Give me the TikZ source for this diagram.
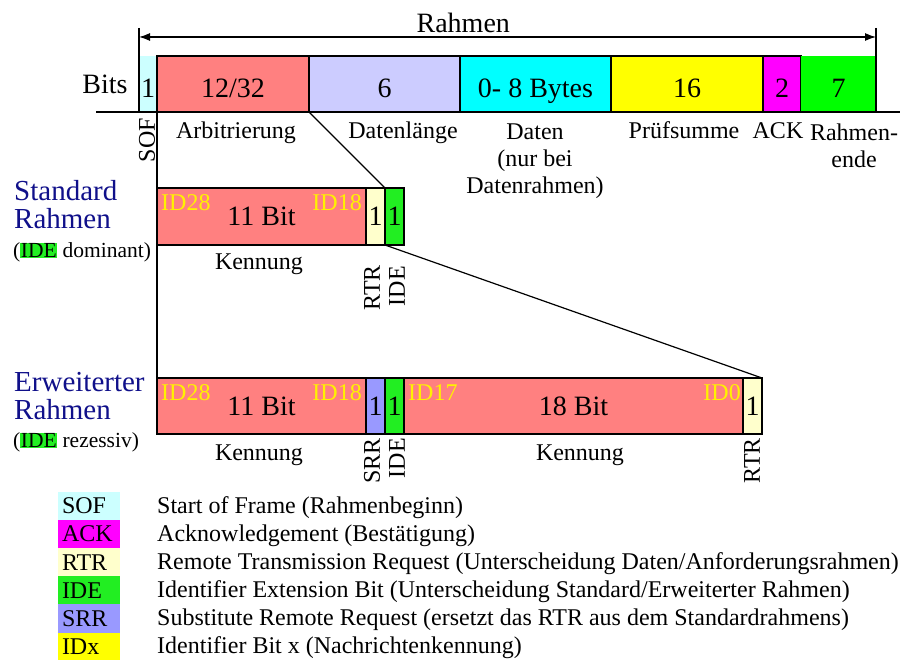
\documentclass[tikz,border=0pt]{standalone}
\usepackage{fontspec}
\setmainfont{Liberation Serif}
\usepackage{xcolor}
\usetikzlibrary{arrows.meta,calc,positioning}
\definecolor{sofcyan}{HTML}{CCFFFF}
\definecolor{arbrot}{HTML}{FF8080}
\definecolor{dlclila}{HTML}{CCCCFF}
\definecolor{datcyan}{HTML}{00FFFF}
\definecolor{crcgelb}{HTML}{FFFF00}
\definecolor{ackmag}{HTML}{FF00FF}
\definecolor{eofgruen}{HTML}{00FF00}
\definecolor{rtrgelb}{HTML}{FFFFCC}
\definecolor{idegruen}{HTML}{22EE22}
\definecolor{srrblau}{HTML}{9999FF}
\definecolor{rahmenblau}{HTML}{10108A}
\newcommand\grossschrift{\fontsize{28}{28}\selectfont}
\newcommand\titelschrift{\fontsize{29}{28}\selectfont}
\newcommand\mittelschrift{\fontsize{24}{27}\selectfont}
\newcommand\kleinschrift{\fontsize{21.5}{24}\selectfont}
\newcommand\idemark{{\setlength{\fboxsep}{0.5pt}\colorbox{idegruen}{IDE}}}
\tikzset{%
	feld/.style       = {draw, line width=1.2pt, inner sep=0pt, outer sep=0pt, minimum height=56, font=\grossschrift},
	oben/.style       = {text height=27pt, text depth=0pt},
	beschr/.style     = {inner sep=0pt, align=center, font=\mittelschrift},
	drehbeschr/.style = {inner sep=0pt, rotate=90, anchor=east, font=\mittelschrift},
	idtext/.style     = {inner xsep=4pt, inner ysep=6pt, text=yellow, font=\mittelschrift},
	titel/.style      = {inner sep=0pt, align=left, anchor=north west, text=rahmenblau, font=\titelschrift},
	legfeld/.style    = {inner xsep=4pt, inner ysep=0pt, outer sep=0pt, minimum height=28.1, text width=54, align=left, anchor=north west, font=\mittelschrift},
	legtext/.style    = {inner sep=0pt, anchor=base west, font=\mittelschrift},
	linie/.style      = {line width=1.2pt},
}

\begin{document}
\begin{tikzpicture}[x=1pt, y=-1pt]
	\useasboundingbox (0,0) rectangle (900,660);
	% Rahmen oben
	\node[feld, oben, draw=none, fill=sofcyan, minimum width=18, anchor=north west] (sof) at (139,56) {1};
	\node[feld, oben, fill=arbrot, minimum width=152, right=0pt of sof] (arb) {12/32};
	\node[feld, oben, fill=dlclila, minimum width=151, right=0pt of arb] (dlc) {6};
	\node[feld, oben, fill=datcyan, minimum width=151, right=0pt of dlc] (dat) {0- 8 Bytes};
	\node[feld, oben, fill=crcgelb, minimum width=152, right=0pt of dat] (crc) {16};
	\node[feld, oben, fill=ackmag, minimum width=38, right=0pt of crc] (ack) {2};
	\node[feld, oben, draw=none, fill=eofgruen, minimum width=75, right=0pt of ack] (eof) {7};
	\node[font=\grossschrift, inner sep=0pt] (bits) at (105,84) {Bits};

	\coordinate (basisL) at (96,112);
	\coordinate (basisR) at (900,112);
	\coordinate (rahmenA) at (139,28);
	\coordinate (rahmenE) at (876,28);
	\coordinate (pfeilA) at (139,37);
	\coordinate (pfeilE) at (876,37);
	\draw[linie] (basisL) -- (basisR);
	\draw[linie] (rahmenA) -- (sof.south west);
	\draw[linie] (rahmenE) -- (eof.south east);
	\draw[linie, {Latex[length=11pt,width=8pt]}-{Latex[length=11pt,width=8pt]}] (pfeilA) -- (pfeilE)
		node[pos=0.44, above, font=\grossschrift] (rahmen) {Rahmen};

	\node[drehbeschr] (l-sof) at (147,118) {SOF};
	\node[beschr, anchor=base] (l-arb) at (236,139) {Arbitrierung};
	\node[beschr, anchor=base] (l-dlc) at (403,139) {Datenlänge};
	\node[beschr, anchor=north] (l-dat) at (535,124) {Daten\\(nur bei\\Datenrahmen)};
	\node[beschr, anchor=base] (l-crc) at (684,139) {Prüfsumme};
	\node[beschr, anchor=base] (l-ack) at (778,139) {ACK};
	\node[beschr, anchor=north] (l-eof) at (854,124) {Rahmen-\\ende};

	% Standardrahmen
	\node[titel] (std-titel) at (14,180) {Standard\\Rahmen};
	\node[font=\kleinschrift, inner sep=0pt, anchor=west] (std-ide) at (13,252) {(\idemark{} dominant)};
	\node[feld, fill=arbrot, minimum width=209, minimum height=57, anchor=north west] (k11a) at (157,188) {11 Bit};
	\node[feld, fill=rtrgelb, minimum width=19, minimum height=57, right=0pt of k11a] (rtr1) {1};
	\node[feld, fill=idegruen, minimum width=19, minimum height=57, right=0pt of rtr1] (ide1) {1};
	\node[idtext, anchor=north west] (id28a) at (k11a.north west) {ID28};
	\node[idtext, anchor=north east] (id18a) at (k11a.north east) {ID18};
	\node[beschr, anchor=base] (kenn1) at (259,270) {Kennung};
	\node[drehbeschr] (l-rtr1) at (372,265) {RTR};
	\node[drehbeschr] (l-ide1) at (397,266) {IDE};

	% Erweiterter Rahmen
	\node[titel] (ext-titel) at (14,372) {Erweiterter\\Rahmen};
	\node[font=\kleinschrift, inner sep=0pt, anchor=west] (ext-ide) at (13,442) {(\idemark{} rezessiv)};
	\node[feld, fill=arbrot, minimum width=209, anchor=north west] (k11b) at (157,378) {11 Bit};
	\node[feld, fill=srrblau, minimum width=19, right=0pt of k11b] (srr) {1};
	\node[feld, fill=idegruen, minimum width=19, right=0pt of srr] (ide2) {1};
	\node[feld, fill=arbrot, minimum width=339, right=0pt of ide2] (k18) {18 Bit};
	\node[feld, fill=rtrgelb, minimum width=19, right=0pt of k18] (rtr2) {1};
	\node[idtext, anchor=north west] (id28b) at (k11b.north west) {ID28};
	\node[idtext, anchor=north east] (id18b) at (k11b.north east) {ID18};
	\node[idtext, anchor=north west] (id17) at (k18.north west) {ID17};
	\node[idtext, anchor=north east, inner xsep=2pt] (id0) at (k18.north east) {ID0};
	\node[beschr, anchor=base] (kenn2) at (259,460) {Kennung};
	\node[beschr, anchor=base] (kenn3) at (580,460) {Kennung};
	\node[drehbeschr] (l-srr) at (372,438) {SRR};
	\node[drehbeschr] (l-ide2) at (397,438) {IDE};
	\node[drehbeschr] (l-rtr2) at (752,438) {RTR};

	% Verbindungen
	\draw[linie] (arb.south west) -- (k11b.north west);
	\draw[linie] (arb.south east) -- (ide1.north west);
	\draw[linie] (ide1.south west) -- (rtr2.north east);

	% Legende
	\foreach \kurz/\farbe/\erkl [count=\i] in {%
		SOF/sofcyan/{Start of Frame (Rahmenbeginn)},
		ACK/ackmag/{Acknowledgement (Bestätigung)},
		RTR/rtrgelb/{Remote Transmission Request (Unterscheidung Daten/Anforderungsrahmen)},
		IDE/idegruen/{Identifier Extension Bit (Unterscheidung Standard/Erweiterter Rahmen)},
		SRR/srrblau/{Substitute Remote Request (ersetzt das RTR aus dem Standardrahmens)},
		IDx/crcgelb/{Identifier Bit x (Nachrichtenkennung)}}
	{
		\node[legfeld, fill=\farbe] (leg\i) at (58,{492+28.1*(\i-1)}) {\kurz};
		\node[legtext] (erkl\i) at (157,{513+28.1*(\i-1)}) {\erkl};
	}
\end{tikzpicture}
\end{document}
